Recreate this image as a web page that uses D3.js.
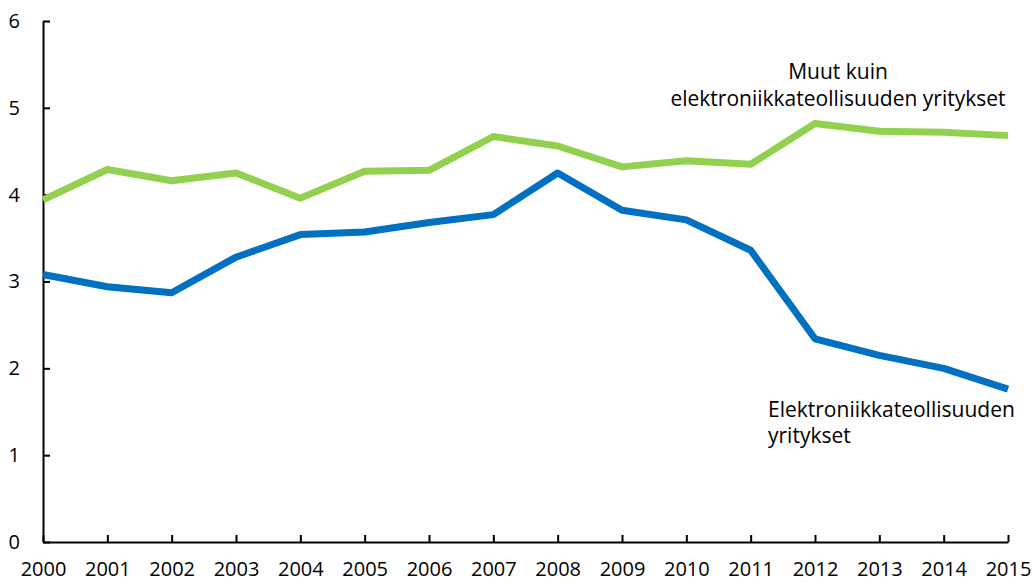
<!DOCTYPE html>
<html>
<head>
<meta charset="utf-8">
<script src="https://cdn.jsdelivr.net/npm/d3@7"></script>
<style>
  html, body { margin: 0; padding: 0; background: #fff; }
  svg text { font-family: "Open Sans", "Liberation Sans", sans-serif; fill: #000; }
</style>
</head>
<body>
<svg id="chart" width="1036" height="583"></svg>
<script>
const years = [2000,2001,2002,2003,2004,2005,2006,2007,2008,2009,2010,2011,2012,2013,2014,2015];
const muut = [3.94,4.29,4.16,4.25,3.96,4.27,4.28,4.67,4.56,4.32,4.39,4.35,4.82,4.73,4.72,4.68];
const elektroniikka = [3.08,2.94,2.87,3.28,3.54,3.57,3.68,3.77,4.25,3.82,3.71,3.36,2.34,2.15,2.00,1.76];
const yTicks = [0,1,2,3,4,5,6];
const labelMuut = ["Muut kuin", "elektroniikkateollisuuden yritykset"];
const labelElek = ["Elektroniikkateollisuuden", "yritykset"];

const svg = d3.select("#chart");
const x = d3.scaleLinear().domain([2000, 2015]).range([43, 1008]);
const y = d3.scaleLinear().domain([0, 6]).range([542, 21]);

const yAxis = d3.axisLeft(y).tickValues(yTicks).tickFormat(d3.format("d"))
  .tickSize(-7).tickSizeOuter(0).tickPadding(23);
const xAxis = d3.axisBottom(x).tickValues(years).tickFormat(d3.format("d"))
  .tickSize(-7).tickSizeOuter(0).tickPadding(20);

const gy = svg.append("g").attr("transform", "translate(43,0)").call(yAxis);
const gx = svg.append("g").attr("transform", "translate(0,542)").call(xAxis);
[gx, gy].forEach(g => {
  g.selectAll("path.domain").attr("stroke", "#000").attr("stroke-width", 2);
  g.selectAll(".tick line").attr("stroke", "#000").attr("stroke-width", 2);
  g.selectAll(".tick text").attr("font-size", 20).attr("font-family", "'Open Sans', sans-serif");
});

const line = d3.line().x((d, i) => x(years[i])).y(d => y(d));
svg.append("path").datum(muut).attr("d", line)
  .attr("fill", "none").attr("stroke", "#92D050").attr("stroke-width", 7).attr("stroke-linejoin", "round");
svg.append("path").datum(elektroniikka).attr("d", line)
  .attr("fill", "none").attr("stroke", "#0070C0").attr("stroke-width", 7).attr("stroke-linejoin", "round");

svg.append("text").attr("x", 838).attr("y", 79).attr("text-anchor", "middle")
  .attr("font-size", 21).text(labelMuut[0]);
svg.append("text").attr("x", 838).attr("y", 106).attr("text-anchor", "middle")
  .attr("font-size", 21).text(labelMuut[1]);
svg.append("text").attr("x", 768).attr("y", 417).attr("text-anchor", "start")
  .attr("font-size", 21).text(labelElek[0]);
svg.append("text").attr("x", 768).attr("y", 443).attr("text-anchor", "start")
  .attr("font-size", 21).text(labelElek[1]);
</script>
</body>
</html>
